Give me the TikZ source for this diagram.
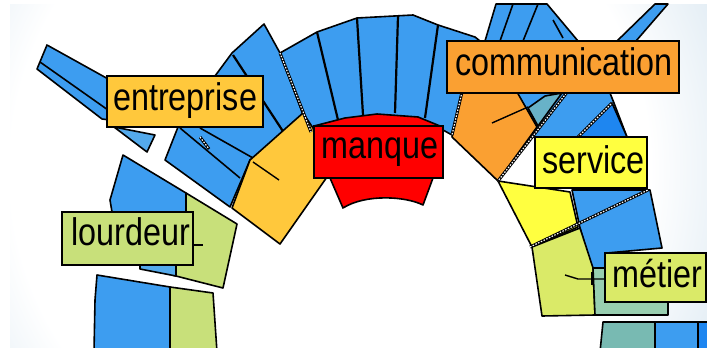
\documentclass[tikz,border=0pt]{standalone}
\usepackage{fontspec}
\newfontfamily\lblfont[FakeStretch=0.84]{Liberation Sans}
\definecolor{bgblue}{RGB}{172,202,224}
\definecolor{blueA}{RGB}{61,157,240}
\definecolor{blueD}{RGB}{30,134,240}
\definecolor{blueL}{RGB}{84,170,236}
\definecolor{goldE}{RGB}{255,200,60}
\definecolor{orangeC}{RGB}{250,160,50}
\definecolor{yellowS}{RGB}{255,255,64}
\definecolor{limeL}{RGB}{200,224,122}
\definecolor{limeM}{RGB}{218,234,104}
\definecolor{tealG}{RGB}{152,206,176}
\definecolor{tealB}{RGB}{120,186,178}
\definecolor{tealS}{RGB}{104,178,200}
\pgfdeclareradialshading{bgrad}{\pgfpoint{0bp}{0bp}}{color(0bp)=(white); color(20bp)=(white); color(38bp)=(bgblue); color(80bp)=(bgblue)}
\tikzset{
  seg/.style={draw=black, line width=1.6pt, line join=round},
  lblbox/.style={draw=black, line width=2pt},
  divline/.style={black, line width=2.2pt},
  wdotback/.style={black, line width=3pt},
  wdotfront/.style={white, line width=1.2pt, dash pattern=on 1.5pt off 1.5pt},
  txt/.style={font=\lblfont\fontsize{38.5}{40}\selectfont, inner sep=0pt, anchor=base west, text=black},
  lead/.style={black, line width=1.4pt}
}
\begin{document}
\begin{tikzpicture}[x=1pt,y=-1pt]
\useasboundingbox (0,0) rectangle (707,348);
\fill[white] (0,0) rectangle (707,348);
\begin{scope}
\clip (10,4) rectangle (707,348);
\shade[shading=bgrad] (-70,-230) rectangle (730,570);
\end{scope}

% left tilted bars
\path[seg, fill=blueA] (47,45) -- (110,80) -- (110,120) -- (102,119) -- (37,69) -- cycle;
\draw[divline, line width=1.6pt] (40,62) -- (108,110);
\path[seg, fill=blueL] (114,127) -- (155,135) -- (147,152) -- cycle;

% left blue fan
\path[seg, fill=blueA] (165,160) -- (178,127) -- (190,110) -- (215,76) -- (232,53) -- (264,24) -- (280,53) -- (310,133) -- (250,160) -- (230,207) -- cycle;
\draw[divline] (233,55) -- (290,142);
\draw[divline, line width=1.6pt] (180,128) -- (240,178);
\draw[divline, line width=1.6pt] (200,128) -- (253,158);

% top arc
\path[seg, fill=blueA] (280,53) -- (317,32) -- (357,18) -- (413,15) -- (438,25) -- (475,37) -- (480,41) -- (462,92) -- (452,135) -- (443,130) -- (310,133) -- cycle;
\draw[divline] (317,32) -- (338,120);
\draw[divline] (357,18) -- (363,115);
\draw[divline] (398,16) -- (395,113);
\draw[divline] (438,25) -- (425,118);

% stripes above communication
\path[seg, fill=blueA] (485,41) -- (496,4) -- (547,4) -- (578,41) -- cycle;
\draw[divline, line width=1.6pt] (500,41) -- (513,4);
\draw[divline, line width=1.6pt] (523,41) -- (538,4);
\draw[divline, line width=1.6pt] (553,20) -- (563,38);
% upper right bar
\path[seg, fill=blueA] (617,41) -- (655,4) -- (668,4) -- (636,41) -- cycle;

% right blue region below communication
\path[seg, fill=blueA] (517,93) -- (610,93) -- (614,103) -- (627,137) -- (531,137) -- (537,127) -- cycle;
\path[seg, fill=blueD] (578,137) -- (612,103) -- (627,137) -- cycle;

% blue piece right of service
\path[seg, fill=blueA] (572,190) -- (650,190) -- (662,248) -- (607,253) -- (607,268) -- (592,268) -- (580,228) -- cycle;

% coloured segments
\path[seg, fill=goldE] (303,113) -- (313,128) -- (327,177) -- (280,244) -- (232,208) -- (250,160) -- cycle;
\path[seg, fill=red] (314,126) -- (345,118) -- (377,114) -- (418,117) -- (440,126) -- (443,178) -- (433,178) -- (423,205) .. controls (405,196) and (365,194) .. (343,208) -- (330,178) -- (314,178) -- cycle;
\path[seg, fill=orangeC] (462,92) -- (517,92) -- (537,127) -- (498,181) -- (452,137) -- cycle;
\path[seg, fill=tealS] (528,108) -- (545,96) -- (562,93) -- (538,126) -- cycle;
\path[seg, fill=yellowS] (498,181) -- (570,192) -- (578,227) -- (532,247) -- cycle;
\path[seg, fill=limeM] (532,247) -- (580,228) -- (593,268) -- (595,315) -- (542,316) -- cycle;
\path[seg, fill=tealG] (593,268) -- (607,268) -- (607,302) -- (668,302) -- (668,315) -- (595,315) -- cycle;

% lourdeur group
\path[seg, fill=blueA] (123,155) -- (186,193) -- (186,212) -- (112,212) -- (110,200) -- cycle;
\path[seg, fill=limeL] (186,193) -- (237,224) -- (223,288) -- (172,275) -- (172,262) -- (186,262) -- cycle;
\path[seg, fill=blueL] (140,264) -- (176,264) -- (176,276) -- (140,269) -- cycle;

% bottom blocks
\path[seg, fill=blueA] (97,275) -- (170,287) -- (170,352) -- (94,352) -- (95,300) -- cycle;
\path[seg, fill=limeL] (170,287) -- (213,293) -- (217,352) -- (170,352) -- cycle;
\path[seg, fill=tealB] (603,322) -- (655,322) -- (655,352) -- (600,352) -- cycle;
\path[seg, fill=blueA] (655,322) -- (698,322) -- (698,352) -- (655,352) -- cycle;
\path[seg, fill=blueD] (698,322) -- (712,322) -- (712,352) -- (698,352) -- cycle;

% white dotted boundaries
\foreach \a/\b in {{(280,53)}/{(311,132)}, {(462,92)}/{(452,135)}, {(568,91)}/{(498,181)}, {(578,137)}/{(612,103)}, {(530,247)}/{(648,190)}, {(200,137)}/{(209,149)}} {
  \draw[wdotback] \a -- \b;
  \draw[wdotfront] \a -- \b;
}

% leader lines
\draw[lead] (253,162) -- (279,180);
\draw[lead] (492,123) -- (528,107);
\draw[lead] (193,233) -- (193,250);
\draw[lead] (193,245) -- (203,245);
\draw[lead] (565,275) -- (578,279) -- (605,279);
\draw[lead] (592,272) -- (592,285);

% labels
\path[lblbox, fill=goldE] (107,76) rectangle (263,127);
\node[txt] (tent) at (113,110) {entreprise};
\path[lblbox, fill=orangeC] (447,41) rectangle (679,93);
\node[txt] (tcom) at (455,75) {communication};
\path[lblbox, fill=red] (314,126) rectangle (443,178);
\node[txt] (tman) at (321,158) {manque};
\path[lblbox, fill=yellowS] (535,137) rectangle (647,188);
\node[txt] (tser) at (542,173) {service};
\path[lblbox, fill=limeL] (62,212) rectangle (193,265);
\node[txt] (tlou) at (71,245) {lourdeur};
\path[lblbox, fill=limeM] (605,253) rectangle (706,302);
\node[txt] (tmet) at (612,287) {métier};
\end{tikzpicture}
\end{document}
